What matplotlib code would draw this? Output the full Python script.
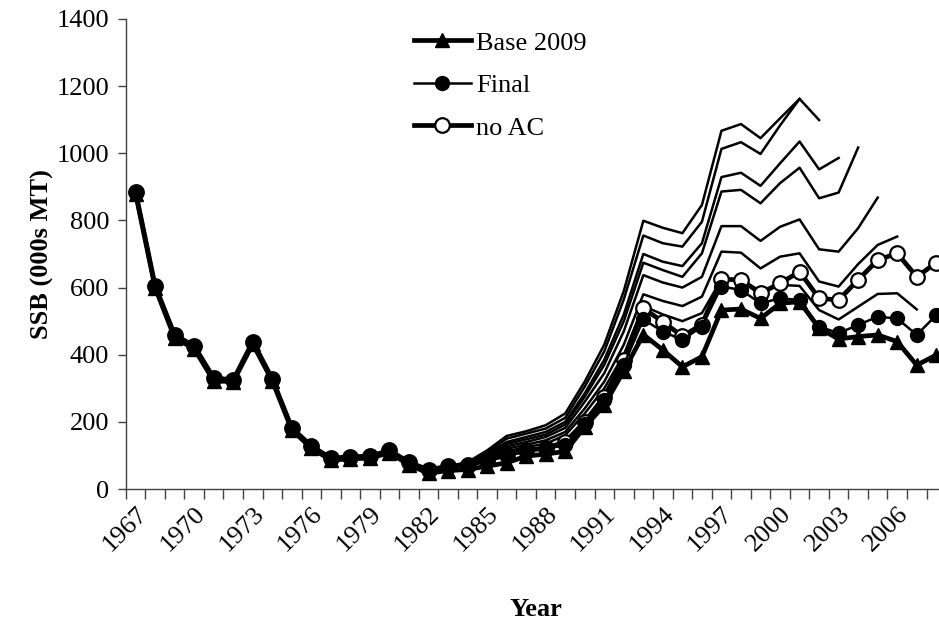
#!/usr/bin/env python
# SSB by year: base run, final run, no-AC run and the retrospective peels.
import numpy as np
import matplotlib
matplotlib.use("Agg")
import matplotlib.pyplot as plt
from matplotlib.ticker import FixedLocator, NullFormatter

FIRST_YEAR = 1967
years = list(range(1967, 2009))

base_2009 = [880, 600, 450, 418, 322, 320, 432, 322, 176, 122, 86, 90, 92, 108, 72, 47,
             55, 58, 68, 78, 98, 104, 112, 185, 250, 352, 460, 414, 364, 394, 533, 536,
             508, 553, 558, 479, 447, 454, 459, 439, 369, 399]
final = [885, 605, 459, 426, 331, 325, 439, 328, 182, 128, 92, 96, 98, 115, 80, 57,
         68, 70, 82, 100, 112, 120, 130, 195, 265, 370, 505, 469, 444, 484, 603, 593,
         553, 568, 563, 484, 464, 489, 513, 508, 459, 518]
no_ac = [885, 605, 459, 426, 331, 325, 439, 328, 182, 128, 92, 96, 98, 115, 80, 57,
         68, 72, 85, 102, 115, 122, 140, 200, 275, 385, 538, 498, 455, 490, 625, 623,
         583, 613, 647, 568, 563, 623, 682, 702, 632, 674]

# retrospective peels, all starting in 1983
PEEL_START = 1983
peels = [
    [68, 80, 115, 158, 172, 190, 225, 320, 430, 590, 799, 778, 762, 846, 1067, 1087,
     1045, 1104, 1162, 1099],
    [68, 78, 110, 150, 165, 180, 212, 305, 410, 565, 755, 732, 722, 796, 1013, 1033,
     998, 1083, 1162],
    [68, 76, 105, 140, 155, 170, 200, 285, 385, 520, 700, 677, 664, 732, 929, 942,
     903, 970, 1035, 952, 986],
    [68, 75, 100, 134, 148, 162, 192, 275, 370, 500, 674, 652, 632, 702, 886, 891,
     851, 911, 957, 866, 883, 1017],
    [68, 74, 96, 127, 140, 155, 182, 260, 345, 470, 637, 615, 600, 632, 783, 783,
     739, 781, 803, 714, 707, 777, 868],
    [68, 73, 92, 120, 132, 145, 170, 240, 320, 430, 580, 560, 545, 573, 707, 704,
     657, 692, 702, 618, 603, 670, 727, 752],
    [68, 72, 88, 112, 125, 135, 160, 225, 300, 400, 545, 520, 500, 524, 625, 622,
     590, 608, 605, 533, 505, 543, 581, 583, 535],
]

plt.rcParams["font.family"] = ["Liberation Serif", "DejaVu Serif"]

fig = plt.figure(figsize=(9.39, 6.22), dpi=100)
ax = fig.add_axes([0.134, 0.2138, 0.8735, 0.7557])

for p in peels:
    x = np.arange(len(p)) + (PEEL_START - FIRST_YEAR)
    ax.plot(x, p, color="black", lw=1.8, zorder=2)

xi = np.arange(len(years))
ax.plot(xi, base_2009, color="black", lw=3.4, marker="^", ms=10, zorder=4, label="Base 2009")
ax.plot(xi, final, color="black", lw=1.8, marker="o", ms=10, zorder=5, label="Final")
ax.plot(xi, no_ac, color="black", lw=3.4, marker="o", ms=10.5, mfc="white", mew=1.6,
        zorder=3, label="no AC")

ax.set_xlim(-0.5, len(years) - 0.5)
ax.set_ylim(0, 1400)
ax.set_yticks(range(0, 1401, 200))

lab_idx = list(range(0, 40, 3))
ax.set_xticks(lab_idx)
ax.set_xticklabels([str(years[i]) for i in lab_idx], rotation=45, ha="right", va="top",
                   rotation_mode="anchor", fontsize=19)
ax.tick_params(axis="x", which="major", length=0, pad=10)
ax.xaxis.set_minor_locator(FixedLocator(np.arange(-0.5, len(years) + 0.5, 1)))
ax.xaxis.set_minor_formatter(NullFormatter())
ax.tick_params(axis="x", which="minor", length=7, width=1, color="#404040", direction="out")
ax.tick_params(axis="y", length=6, width=1, color="#404040", direction="out",
               labelsize=19, pad=6)

for s in ("top", "right"):
    ax.spines[s].set_visible(False)
for s in ("left", "bottom"):
    ax.spines[s].set_color("#404040")
    ax.spines[s].set_linewidth(1)

ax.set_xlabel("Year", fontsize=19, fontweight="bold", labelpad=30)
ax.set_ylabel("SSB (000s MT)", fontsize=19, fontweight="bold", labelpad=2)

h, l = ax.get_legend_handles_labels()
leg = ax.legend(h, l, loc="upper left", bbox_to_anchor=(0.351, 0.974), frameon=False,
                fontsize=19, handlelength=2.16, labelspacing=0.72, handletextpad=0.2,
                borderpad=0, borderaxespad=0)

fig.savefig("out.png", dpi=100)
